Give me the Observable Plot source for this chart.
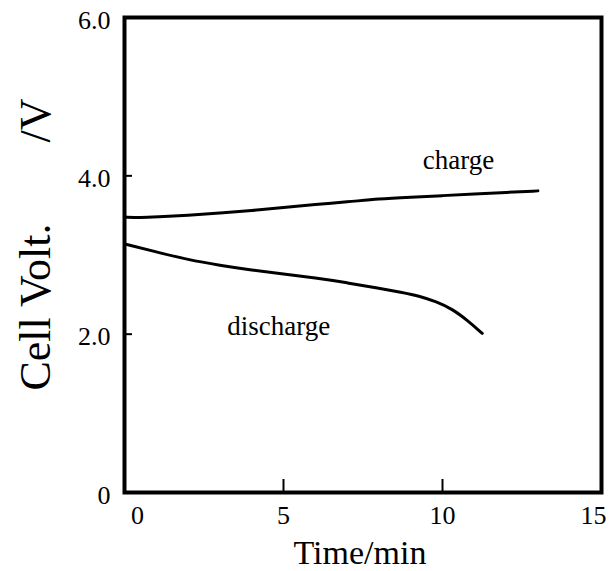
<!DOCTYPE html>
<html>
<head>
<meta charset="utf-8">
<script src="https://cdn.jsdelivr.net/npm/d3@7"></script>
<script src="https://cdn.jsdelivr.net/npm/@observablehq/plot@0.6"></script>
<style>
  html, body { margin: 0; padding: 0; background: #fff; }
  svg { display: block; }
</style>
</head>
<body>
<div id="chart"></div>
<script>
const chargeTime = [0, 0.5, 1, 2, 3, 4, 5, 6, 7, 8, 9, 10, 11, 12, 13];
const chargeVolt = [3.48, 3.47, 3.48, 3.50, 3.53, 3.56, 3.60, 3.64, 3.67, 3.71, 3.73, 3.75, 3.77, 3.79, 3.81];
const dischargeTime = [0, 1, 2, 3, 4, 5, 6, 7, 8, 8.7, 9.3, 9.8, 10.3, 10.8, 11.25];
const dischargeVolt = [3.14, 3.04, 2.94, 2.87, 2.81, 2.76, 2.71, 2.65, 2.58, 2.53, 2.48, 2.41, 2.32, 2.17, 2.01];
const xTicks = [0, 5, 10, 15];
const yTicks = [0, 2, 4, 6];
const yTickLabels = ["0", "2.0", "4.0", "6.0"];
const xTitle = "Time/min";
const yTitle = "Cell Volt.";
const yUnit = "/V";
const labels = [
  {text: "charge", t: 10.5, v: 4.19},
  {text: "discharge", t: 4.85, v: 2.1}
];

const charge = chargeTime.map((t, i) => ({t, v: chargeVolt[i]}));
const discharge = dischargeTime.map((t, i) => ({t, v: dischargeVolt[i]}));
const font = "'Liberation Serif', 'DejaVu Serif', serif";

const plot = Plot.plot({
  width: 610,
  height: 571,
  marginLeft: 124,
  marginRight: 9,
  marginTop: 17,
  marginBottom: 79,
  style: {fontFamily: font, color: "#000", background: "#fff"},
  x: {domain: [0, 15]},
  y: {domain: [0, 6]},
  marks: [
    // inward ticks (drawn by shifting outward axis ticks inside the frame)
    Plot.axisX(xTicks.slice(1, 3), {tickSize: 13, dy: -13, text: null, label: null, strokeWidth: 2}),
    Plot.axisY(yTicks.slice(1, 3), {tickSize: 8, dx: 8, text: null, label: null, strokeWidth: 2}),
    // x tick labels
    Plot.axisX([xTicks[0]], {tickSize: 0, tickPadding: 13, fontSize: 26, dx: 13, label: null}),
    Plot.axisX(xTicks.slice(1, 3), {tickSize: 0, tickPadding: 13, fontSize: 26, label: null}),
    Plot.axisX([xTicks[3]], {tickSize: 0, tickPadding: 13, fontSize: 26, dx: -8, label: null}),
    // y tick labels
    Plot.axisY(yTicks, {tickSize: 0, tickPadding: 14, fontSize: 26, tickFormat: (d) => yTickLabels[yTicks.indexOf(d)], dy: 3, label: null}),
    // axis titles
    Plot.text([xTitle], {frameAnchor: "bottom", lineAnchor: "middle", textAnchor: "middle", dx: -3, dy: 61, fontSize: 34, fill: "#000"}),
    Plot.text([yTitle], {frameAnchor: "left", lineAnchor: "middle", textAnchor: "middle", rotate: -90, dx: -89, dy: 52, fontSize: 44, fill: "#000"}),
    Plot.text([yUnit], {frameAnchor: "top-left", lineAnchor: "middle", textAnchor: "middle", rotate: -90, dx: -89, dy: 103, fontSize: 44, fill: "#000"}),
    Plot.line(charge, {x: "t", y: "v", curve: "basis", strokeWidth: 3, stroke: "#000"}),
    Plot.line(discharge, {x: "t", y: "v", curve: "basis", strokeWidth: 3, stroke: "#000"}),
    Plot.text(labels, {x: "t", y: "v", text: "text", fontSize: 27, fill: "#000"}),
    Plot.frame({stroke: "#000", strokeWidth: 4})
  ]
});
document.getElementById("chart").appendChild(plot);
</script>
</body>
</html>
